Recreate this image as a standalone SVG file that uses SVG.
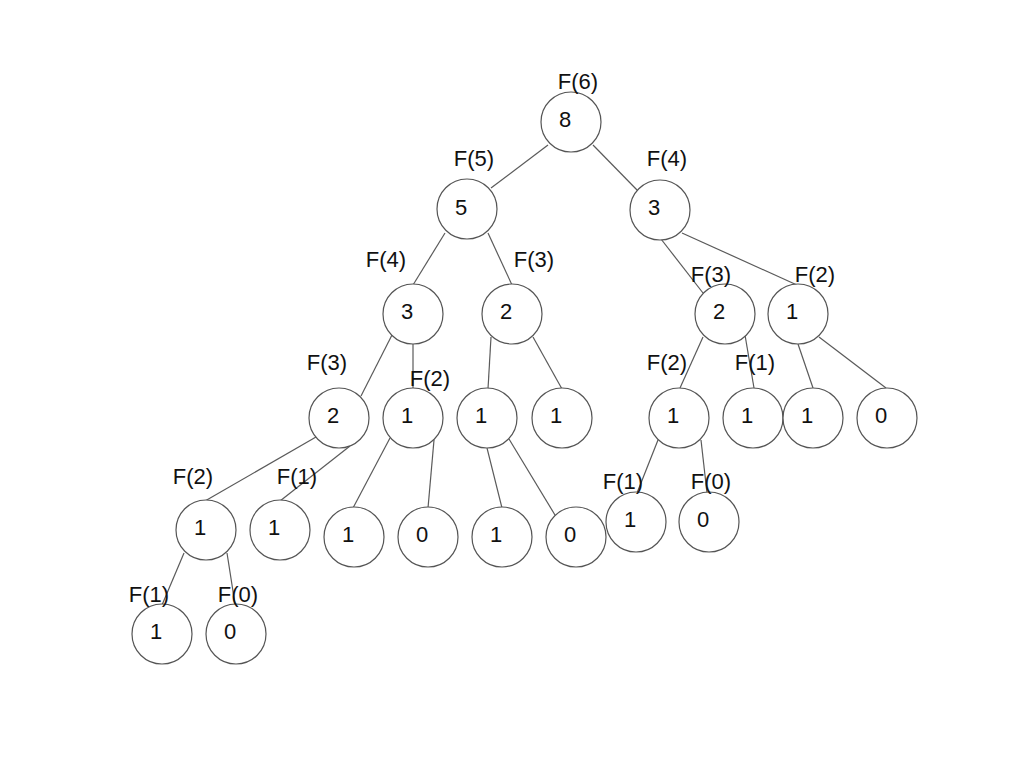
<svg xmlns="http://www.w3.org/2000/svg" width="1024" height="768" viewBox="0 0 1024 768">
<style>
.c{fill:#fff;stroke:#555;stroke-width:1.2}
.v,.l{font-family:"Liberation Sans",Arial,sans-serif;font-size:22px;fill:#111;text-anchor:middle}
.e{stroke:#5a5a5a;stroke-width:1.2;fill:none}
</style>
<rect width="1024" height="768" fill="#fff"/>
<g id="connectors">
<line class="e" x1="548" y1="145" x2="491" y2="188"/>
<line class="e" x1="593" y1="145" x2="638" y2="191"/>
<line class="e" x1="445" y1="233" x2="413" y2="285"/>
<line class="e" x1="488" y1="233" x2="512" y2="285"/>
<line class="e" x1="661" y1="239" x2="703" y2="293"/>
<line class="e" x1="682" y1="233" x2="797" y2="285"/>
<line class="e" x1="392" y1="335" x2="361" y2="396"/>
<line class="e" x1="413" y1="344" x2="413" y2="388"/>
<line class="e" x1="491" y1="337" x2="488" y2="389"/>
<line class="e" x1="533" y1="337" x2="562" y2="389"/>
<line class="e" x1="703" y1="337" x2="680" y2="388"/>
<line class="e" x1="745" y1="335" x2="754" y2="388"/>
<line class="e" x1="798" y1="344" x2="813" y2="388"/>
<line class="e" x1="819" y1="337" x2="886" y2="388"/>
<line class="e" x1="316" y1="437" x2="205" y2="501"/>
<line class="e" x1="350" y1="446" x2="280" y2="501"/>
<line class="e" x1="390" y1="438" x2="353" y2="508"/>
<line class="e" x1="434" y1="440" x2="428" y2="508"/>
<line class="e" x1="487" y1="448" x2="502" y2="508"/>
<line class="e" x1="509" y1="439" x2="555" y2="515"/>
<line class="e" x1="658" y1="440" x2="637" y2="493"/>
<line class="e" x1="701" y1="440" x2="707" y2="493"/>
<line class="e" x1="184" y1="553" x2="162" y2="605"/>
<line class="e" x1="227" y1="553" x2="235" y2="604"/>
</g>
<g id="n_f6"><circle class="c" cx="571" cy="122" r="30"/><text class="v" x="565" y="127">8</text><text class="l" x="578" y="89">F(6)</text></g>
<g id="n_f5"><circle class="c" cx="467" cy="209" r="30"/><text class="v" x="461" y="215">5</text><text class="l" x="474" y="166">F(5)</text></g>
<g id="n_f4r"><circle class="c" cx="660" cy="210" r="30"/><text class="v" x="654" y="215">3</text><text class="l" x="667" y="166">F(4)</text></g>
<g id="n_a"><circle class="c" cx="413" cy="314" r="30"/><text class="v" x="407" y="319">3</text><text class="l" x="386" y="267">F(4)</text></g>
<g id="n_b"><circle class="c" cx="512" cy="314" r="30"/><text class="v" x="506" y="319">2</text><text class="l" x="534" y="267">F(3)</text></g>
<g id="n_c"><circle class="c" cx="725" cy="314" r="30"/><text class="v" x="719" y="319">2</text><text class="l" x="711" y="282">F(3)</text></g>
<g id="n_d"><circle class="c" cx="798" cy="314" r="30"/><text class="v" x="792" y="319">1</text><text class="l" x="815" y="282">F(2)</text></g>
<g id="n_e"><circle class="c" cx="339" cy="418" r="30"/><text class="v" x="333" y="423">2</text><text class="l" x="327" y="370">F(3)</text></g>
<g id="n_f"><circle class="c" cx="413" cy="418" r="30"/><text class="v" x="407" y="423">1</text><text class="l" x="430" y="386">F(2)</text></g>
<g id="n_g"><circle class="c" cx="487" cy="418" r="30"/><text class="v" x="481" y="423">1</text></g>
<g id="n_h"><circle class="c" cx="562" cy="418" r="30"/><text class="v" x="556" y="423">1</text></g>
<g id="n_i"><circle class="c" cx="679" cy="418" r="30"/><text class="v" x="673" y="423">1</text><text class="l" x="667" y="370">F(2)</text></g>
<g id="n_j"><circle class="c" cx="753" cy="418" r="30"/><text class="v" x="747" y="423">1</text><text class="l" x="755" y="370">F(1)</text></g>
<g id="n_k"><circle class="c" cx="813" cy="418" r="30"/><text class="v" x="807" y="423">1</text></g>
<g id="n_l"><circle class="c" cx="887" cy="418" r="30"/><text class="v" x="881" y="423">0</text></g>
<g id="n_m"><circle class="c" cx="206" cy="530" r="30"/><text class="v" x="200" y="535">1</text><text class="l" x="193" y="484">F(2)</text></g>
<g id="n_n"><circle class="c" cx="280" cy="530" r="30"/><text class="v" x="274" y="535">1</text><text class="l" x="297" y="484">F(1)</text></g>
<g id="n_o"><circle class="c" cx="354" cy="537" r="30"/><text class="v" x="348" y="542">1</text></g>
<g id="n_p"><circle class="c" cx="428" cy="537" r="30"/><text class="v" x="422" y="542">0</text></g>
<g id="n_q"><circle class="c" cx="502" cy="537" r="30"/><text class="v" x="496" y="542">1</text></g>
<g id="n_r"><circle class="c" cx="576" cy="537" r="30"/><text class="v" x="570" y="542">0</text></g>
<g id="n_s"><circle class="c" cx="636" cy="522" r="30"/><text class="v" x="630" y="527">1</text><text class="l" x="623" y="489">F(1)</text></g>
<g id="n_t"><circle class="c" cx="709" cy="522" r="30"/><text class="v" x="703" y="527">0</text><text class="l" x="711" y="489">F(0)</text></g>
<g id="n_u"><circle class="c" cx="162" cy="634" r="30"/><text class="v" x="156" y="639">1</text><text class="l" x="149" y="602">F(1)</text></g>
<g id="n_v"><circle class="c" cx="236" cy="634" r="30"/><text class="v" x="230" y="639">0</text><text class="l" x="238" y="602">F(0)</text></g>
</svg>
